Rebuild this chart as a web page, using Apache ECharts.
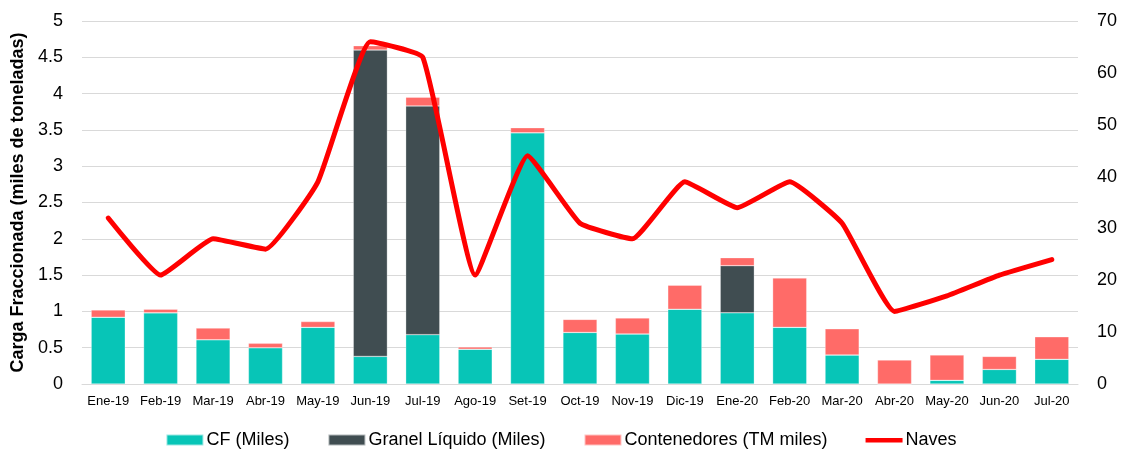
<!DOCTYPE html>
<html><head><meta charset="utf-8">
<script src="https://cdn.jsdelivr.net/npm/echarts@6/dist/echarts.min.js"></script>
<style>html,body{margin:0;padding:0;background:#fff}#c{width:1122px;height:451px}</style>
</head><body><div id="c"></div>
<script>
const categories = ['Ene-19','Feb-19','Mar-19','Abr-19','May-19','Jun-19','Jul-19','Ago-19','Set-19','Oct-19','Nov-19','Dic-19','Ene-20','Feb-20','Mar-20','Abr-20','May-20','Jun-20','Jul-20'];
const cf = [0.92,0.98,0.61,0.50,0.78,0.38,0.68,0.48,3.46,0.71,0.69,1.03,0.98,0.78,0.40,0,0.05,0.20,0.34];
const granel = [0,0,0,0,0,4.22,3.15,0,0,0,0,0,0.65,0,0,0,0,0,0];
const contenedores = [0.10,0.05,0.16,0.06,0.08,0.06,0.12,0.03,0.07,0.18,0.22,0.33,0.11,0.68,0.36,0.33,0.35,0.18,0.31];
const naves = [32,21,28,26,39,66,63,21,44,31,28,39,34,39,31,14,17,21,24];
const leftTicks = ['0','0.5','1','1.5','2','2.5','3','3.5','4','4.5','5'];

const font = 'Liberation Sans, Arial, sans-serif';
const chart = echarts.init(document.getElementById('c'));
chart.setOption({
  animation: false,
  textStyle: {fontFamily: font},
  grid: {left: 82, right: 44, top: 21, bottom: 67, containLabel: false},
  legend: {
    top: 431, left: 'center', itemGap: 38, itemWidth: 37, itemHeight: 11, padding: 0,
    textStyle: {fontSize: 18, color: '#000', fontFamily: font, padding: [0, 0, 0, -2]},
    data: [
      {name: 'CF (Miles)', icon: 'rect'},
      {name: 'Granel Líquido (Miles)', icon: 'rect'},
      {name: 'Contenedores (TM miles)', icon: 'rect'},
      {name: 'Naves', icon: 'path://M0,0L0.01,0M0,11L0.01,11M0,3.5L37,3.5L37,8L0,8Z'}
    ]
  },
  xAxis: {
    type: 'category', data: categories,
    axisLine: {lineStyle: {color: '#d9d9d9', width: 1}},
    axisTick: {show: false},
    axisLabel: {color: '#000', fontSize: 13, margin: 11, interval: 0}
  },
  yAxis: [
    {
      type: 'value', min: 0, max: 5, interval: 0.5,
      name: 'Carga Fraccionada (miles de toneladas)', nameLocation: 'middle', nameGap: 54,
      nameTextStyle: {fontSize: 18, fontWeight: 'bold', color: '#000'},
      axisLabel: {color: '#000', fontSize: 18, margin: 19,
        formatter: v => leftTicks[Math.round(v / 0.5)]},
      splitLine: {lineStyle: {color: '#d9d9d9'}},
      axisLine: {show: false}, axisTick: {show: false}
    },
    {
      type: 'value', min: 0, max: 70, interval: 10,
      axisLabel: {color: '#000', fontSize: 18, margin: 19},
      splitLine: {show: false}, axisLine: {show: false}, axisTick: {show: false}
    }
  ],
  series: [
    {name: 'CF (Miles)', type: 'bar', stack: 'a', data: cf, barWidth: '65%',
      itemStyle: {color: '#07C5B7', borderColor: 'rgba(255,255,255,0.6)', borderWidth: 0.5}},
    {name: 'Granel Líquido (Miles)', type: 'bar', stack: 'a', data: granel,
      itemStyle: {color: '#404D51', borderColor: 'rgba(255,255,255,0.6)', borderWidth: 0.5}},
    {name: 'Contenedores (TM miles)', type: 'bar', stack: 'a', data: contenedores,
      itemStyle: {color: '#FF6B68', borderColor: 'rgba(255,255,255,0.6)', borderWidth: 0.5}},
    {name: 'Naves', type: 'line', yAxisIndex: 1, data: naves, smooth: 0.12,
      symbol: 'none', lineStyle: {color: '#FF0000', width: 5, join: 'round', cap: 'round'},
      itemStyle: {color: '#FF0000'}}
  ]
});
</script></body></html>
